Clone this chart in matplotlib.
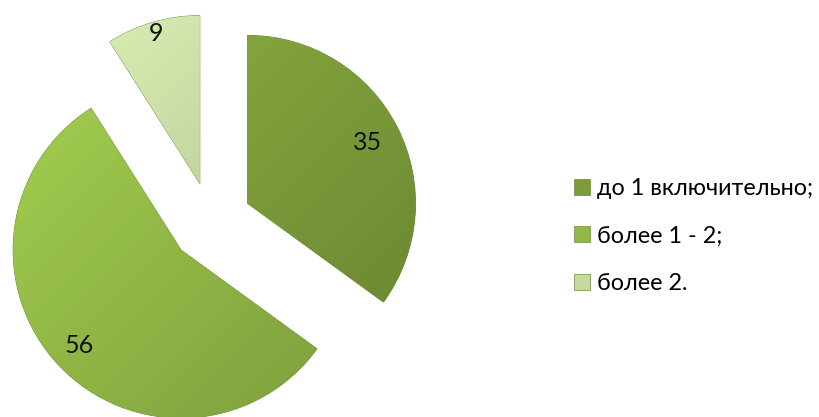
import numpy as np
import matplotlib
matplotlib.use("Agg")
import matplotlib.pyplot as plt
from matplotlib.colors import to_rgb

plt.rcParams['font.family'] = ['Lato', 'Open Sans', 'DejaVu Sans']

categories = ["до 1 включительно;", "более 1 - 2;", "более 2."]
values = [35, 56, 9]
colors = ["#7C9C3A", "#92B947", "#C6D9A3"]

W, H = 819, 417
fig = plt.figure(figsize=(W / 100, H / 100), dpi=100)
ax = fig.add_axes([0, 0, 1, 1])

center = (211, H - 222)
radius = 168
wedges, _ = ax.pie(values, colors=colors, startangle=90, counterclock=False,
                   radius=radius, center=center, explode=[41, 41, 40],
                   frame=True, wedgeprops=dict(linewidth=0.6, edgecolor="#6E8A34"))
ax.set_xlim(0, W)
ax.set_ylim(0, H)
ax.set_aspect('equal')
ax.axis('off')

# subtle gradient shading clipped to each wedge
yy, xx = np.mgrid[0:H, 0:W]
for w, c in zip(wedges, colors):
    base = np.array(to_rgb(c))
    cx, cy = w.center
    t = ((xx - (cx - radius)) + ((cy + radius) - yy)) / (4 * radius)
    t = np.clip(t, 0, 1)[..., None]
    light = np.clip(base * 1.12, 0, 1)
    dark = base * 0.85
    img = light * (1 - t) + dark * t
    im = ax.imshow(img, extent=(0, W, 0, H), origin='lower', zorder=w.get_zorder() + 0.1,
                   interpolation='bilinear')
    im.set_clip_path(w)

# value labels
label_dist = [0.80, 0.83, 0.93]
for w, v, d in zip(wedges, values, label_dist):
    ang = np.deg2rad((w.theta1 + w.theta2) / 2)
    cx, cy = w.center
    ax.text(cx + d * radius * np.cos(ang), cy + d * radius * np.sin(ang), str(v),
            ha='center', va='center', fontsize=18, color='#111111', zorder=10)

handles = [plt.Line2D([], [], marker='s', linestyle='', markersize=11.5,
                      markerfacecolor=c, markeredgecolor='#6E8A34', markeredgewidth=0.5)
           for c in colors]
fig.legend(handles, categories, loc='center left', bbox_to_anchor=(574 / W, 1 - 236 / H),
           frameon=False, fontsize=16.8, handlelength=0.69, handletextpad=0.3,
           labelspacing=1.15, borderpad=0, borderaxespad=0)

fig.savefig("out.png", dpi=100)
